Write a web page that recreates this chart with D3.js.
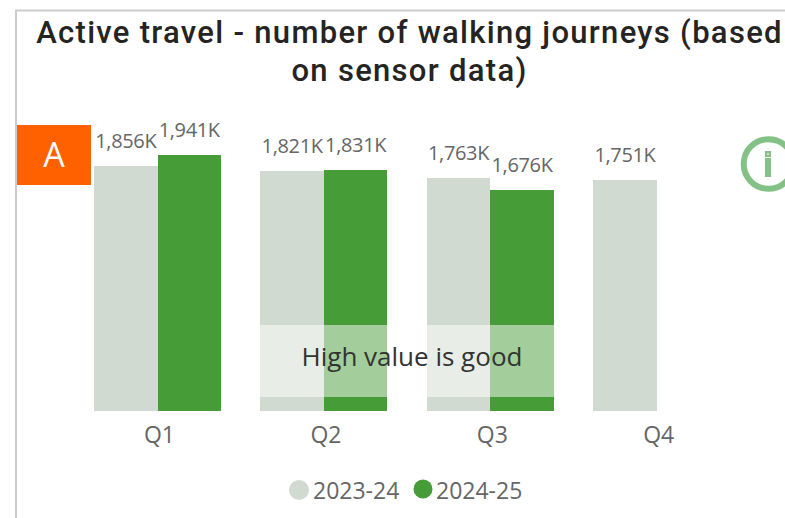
<!DOCTYPE html>
<html>
<head>
<meta charset="utf-8">
<script src="https://cdn.jsdelivr.net/npm/d3@7"></script>
<style>
  html, body { margin: 0; padding: 0; background: #fff; overflow: hidden; }
  svg { display: block; }
  text { font-family: "Open Sans", "Noto Sans", sans-serif; }
  .title { font-family: Roboto, sans-serif; font-size: 31px; font-weight: 500; fill: #252423; letter-spacing: 1.3px; text-anchor: middle; }
</style>
</head>
<body>
<svg id="chart" width="785" height="518"></svg>
<script>
"use strict";

const quarters = ["Q1", "Q2", "Q3", "Q4"];
const seriesNames = ["2023-24", "2024-25"];
const values2324 = [1856, 1821, 1763, 1751];
const values2425 = [1941, 1831, 1676, null];
const titleLines = ["Active travel - number of walking journeys (based", "on sensor data)"];

const colors = { "2023-24": "#D0DAD0", "2024-25": "#469C36" };
const fmt = d3.format(",");

const svg = d3.select("#chart");

// frame, only top and left show in the crop
svg.append("path")
  .attr("d", "M16 518V10.5H785")
  .attr("fill", "none")
  .attr("stroke", "#CCCCCC")
  .attr("stroke-width", 2);

svg.selectAll("text.title")
  .data(titleLines)
  .join("text")
  .attr("class", "title")
  .attr("x", 409.5)
  .attr("y", (d, i) => 43 + i * 38)
  .text(d => d);

const x = d3.scaleBand().domain(quarters).range([74.3, 739.9]).paddingInner(0.237).paddingOuter(0.1185);
const xInner = d3.scaleBand().domain(seriesNames).range([0, x.bandwidth()]);
const y = d3.scaleLinear().domain([0, 1941]).range([411, 155]);

const rows = seriesNames.flatMap((name, s) =>
  quarters.map((q, i) => ({ q, name, value: (s ? values2425 : values2324)[i] }))
).filter(d => d.value != null);

svg.append("g").attr("shape-rendering", "crispEdges").selectAll("rect")
  .data(rows)
  .join("rect")
  .attr("x", d => x(d.q) + xInner(d.name))
  .attr("y", d => y(d.value))
  .attr("width", xInner.bandwidth())
  .attr("height", d => y(0) - y(d.value))
  .attr("fill", d => colors[d.name]);

svg.append("g").selectAll("text")
  .data(rows)
  .join("text")
  .attr("x", d => x(d.q) + xInner(d.name) + xInner.bandwidth() / 2)
  .attr("y", d => y(d.value) - 18)
  .attr("text-anchor", "middle")
  .attr("font-size", 20)
  .attr("letter-spacing", -0.35)
  .attr("fill", "#666666")
  .text(d => fmt(d.value) + "K");

const xAxis = svg.append("g")
  .attr("transform", "translate(2,411)")
  .call(d3.axisBottom(x).tickSize(0).tickPadding(15.5));
xAxis.select(".domain").remove();
xAxis.selectAll("text")
  .attr("font-size", 23)
  .attr("font-family", null)
  .attr("fill", "#666666");

// "High value is good" overlay
svg.append("rect")
  .attr("x", 240).attr("y", 325)
  .attr("width", 345).attr("height", 72)
  .attr("fill", "#fff").attr("fill-opacity", 0.5);
svg.append("text")
  .attr("x", 412).attr("y", 366)
  .attr("text-anchor", "middle")
  .attr("font-size", 26)
  .attr("fill", "#333333")
  .text("High value is good");

// "A" badge
svg.append("rect")
  .attr("x", 17).attr("y", 125)
  .attr("width", 74).attr("height", 60)
  .attr("fill", "#FF6000");
svg.append("text")
  .attr("x", 54).attr("y", 167)
  .attr("text-anchor", "middle")
  .attr("font-size", 34)
  .attr("fill", "#fff")
  .text("A");

// info icon
const icon = svg.append("g").attr("fill", "#84C187");
icon.append("circle")
  .attr("cx", 768.5).attr("cy", 164).attr("r", 24.8)
  .attr("fill", "none").attr("stroke", "#84C187").attr("stroke-width", 6);
icon.append("rect").attr("x", 765).attr("y", 158).attr("width", 6).attr("height", 19);
icon.append("rect").attr("x", 765).attr("y", 151).attr("width", 6).attr("height", 6);
icon.append("path").attr("d", "M767.3 154H768.7M768 153.3V154.7").attr("stroke", "#fff").attr("stroke-width", 1);

// legend
const legendX = [299, 423];
const legendR = [10, 9.5];
const legendY = [490, 489];
const legend = svg.append("g").selectAll("g")
  .data(seriesNames)
  .join("g")
  .attr("transform", (d, i) => `translate(${legendX[i]},${legendY[i]})`);
legend.append("circle")
  .attr("r", (d, i) => legendR[i])
  .attr("fill", d => colors[d]);
legend.append("text")
  .attr("x", (d, i) => 14 - i)
  .attr("y", (d, i) => 9 + i)
  .attr("font-size", 23)
  .attr("fill", "#666666")
  .text(d => d);
</script>
</body>
</html>
